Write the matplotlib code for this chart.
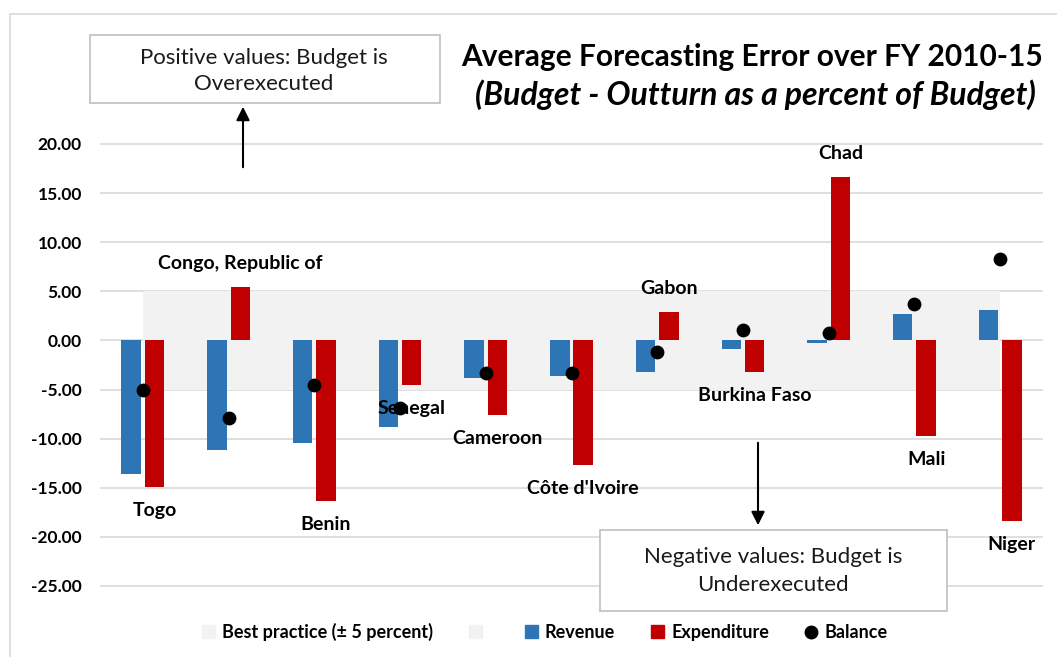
import matplotlib
matplotlib.use("Agg")
import matplotlib.pyplot as plt
import numpy as np
from matplotlib.patches import Patch, Rectangle
from matplotlib.lines import Line2D

plt.rcParams['font.family'] = ['Lato', 'DejaVu Sans']

countries = ["Togo", "Congo, Republic of", "Benin", "Senegal", "Cameroon",
             "Côte d'Ivoire", "Gabon", "Burkina Faso", "Chad", "Mali", "Niger"]
revenue = [-13.6, -11.2, -10.4, -8.8, -3.8, -3.6, -3.2, -0.9, -0.3, 2.7, 3.1]
expenditure = [-14.9, 5.4, -16.3, -4.5, -7.6, -12.7, 2.9, -3.2, 16.6, -9.7, -18.4]
balance = [-5.0, -7.9, -4.5, -6.9, -3.3, -3.3, -1.2, 1.1, 0.8, 3.7, 8.3]
band_low, band_high = -5, 5

BLUE = '#2E75B6'
RED = '#C00000'
GRAY = '#F2F2F2'

W, H = 1057, 657
fig = plt.figure(figsize=(W / 100, H / 100), dpi=100)

def px(x, y):
    return x / W, 1 - y / H

ax = fig.add_axes([100 / W, 1 - 605.6 / H, 943 / W, 491.1 / H])
x = np.arange(len(countries))

ax.fill_between([x[0], x[-1]], band_low, band_high, color=GRAY, lw=0, zorder=1)
bw = 0.227
ax.bar(x - 0.136, revenue, bw, color=BLUE, zorder=2)
ax.bar(x + 0.136, expenditure, bw, color=RED, zorder=2)
ax.scatter(x, balance, s=80, color='black', zorder=3)

for i, name in enumerate(countries):
    v = expenditure[i]
    off = 17 if v > 0 else -17
    ax.annotate(name, (x[i] + 0.136, v), xytext=(0, off), textcoords='offset points',
                ha='center', va='center', fontsize=14, fontweight='bold')

ax.set_xlim(-0.5, 10.5)
ax.set_ylim(-27, 23)
ax.set_yticks(np.arange(-25, 21, 5))
ax.set_yticklabels([f"{t:.2f}" for t in np.arange(-25, 21, 5)], fontsize=12.5, fontweight='bold')
ax.set_xticks([])
ax.tick_params(axis='y', length=0, pad=13)
ax.grid(axis='y', color='#D9D9D9', lw=1.2, zorder=0)
ax.set_axisbelow(True)
for s in ax.spines.values():
    s.set_visible(False)

# outer chart border
fig.patches.append(Rectangle(px(10, 660), (W + 10) / W, 646 / H, transform=fig.transFigure,
                             fill=False, ec='#D9D9D9', lw=1.2))

# title
fig.text(*px(752, 57), "Average Forecasting Error over FY 2010-15", ha='center', va='center',
         fontsize=21.5, fontweight='bold')
fig.text(*px(755, 95), "(Budget - Outturn as a percent of Budget)", ha='center', va='center',
         fontsize=23, fontweight='bold', style='italic')

# annotation boxes
fig.patches.append(Rectangle(px(90, 103), 350 / W, 68 / H, transform=fig.transFigure,
                             fill=True, fc='white', ec='#BFBFBF', lw=1.2, zorder=5))
fig.text(*px(264, 71), "Positive values: Budget is\nOverexecuted", ha='center', va='center',
         fontsize=16, linespacing=1.35, zorder=6, color='#1a1a1a')
fig.patches.append(Rectangle(px(600, 611), 347 / W, 81 / H, transform=fig.transFigure,
                             fill=True, fc='white', ec='#BFBFBF', lw=1.2, zorder=5))
fig.text(*px(773, 571), "Negative values: Budget is\nUnderexecuted", ha='center', va='center',
         fontsize=16, linespacing=1.5, zorder=6, color='#1a1a1a')

fig.add_artist(matplotlib.patches.FancyArrowPatch(px(243, 170), px(243, 104),
               transform=fig.transFigure, arrowstyle='-|>', mutation_scale=20, lw=1.5, color='black'))
fig.add_artist(matplotlib.patches.FancyArrowPatch(px(758, 440), px(758, 528),
               transform=fig.transFigure, arrowstyle='-|>', mutation_scale=20, lw=1.5, color='black'))

handles = [Patch(color=GRAY), Patch(color=GRAY), Patch(color=BLUE), Patch(color=RED),
           Line2D([], [], marker='o', color='black', ls='', markersize=9)]
labels = ["Best practice (± 5 percent)", "", "Revenue", "Expenditure", "Balance"]
fig.legend(handles, labels, loc='center', bbox_to_anchor=px(545, 632), ncol=5, frameon=False,
           prop={'weight': 'bold', 'size': 13}, handlelength=0.7, handleheight=0.7,
           handletextpad=0.4, columnspacing=2.0)

fig.savefig("out.png", dpi=100)
